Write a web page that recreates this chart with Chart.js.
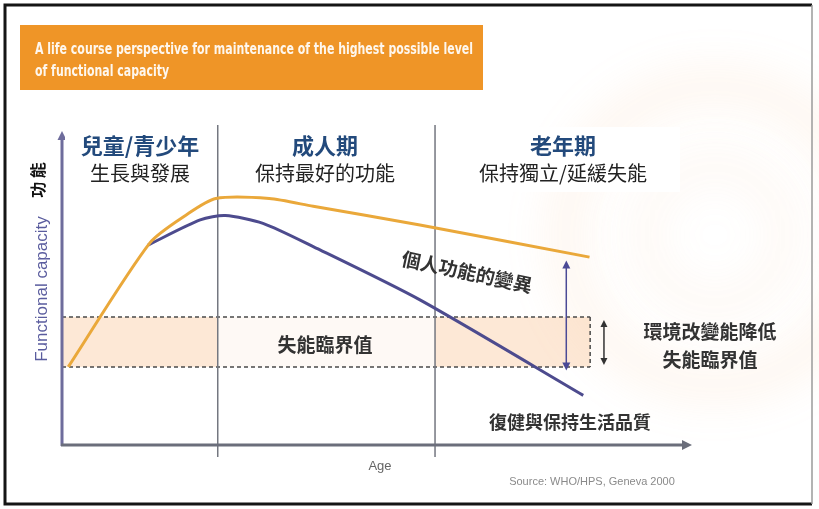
<!DOCTYPE html>
<html>
<head>
<meta charset="utf-8">
<script src="https://cdn.jsdelivr.net/npm/chart.js@4/dist/chart.umd.min.js"></script>
<style>
  html, body { margin: 0; padding: 0; background: #fff; overflow: hidden; }
  canvas { display: block; }
</style>
</head>
<body>
<canvas id="lifeCourse" width="819" height="509"></canvas>
<script>
// functional capacity over the life course (age and capacity on a 0-100 scale)
const highAge = [1, 14, 20, 24.5, 33, 40, 57, 84];
const highCap = [25.2, 65.2, 74.5, 79.5, 79.5, 77, 71, 60.6];
const lowAge = [13.7, 22, 26, 32, 40, 57, 83];
const lowCap = [64.5, 72.6, 74, 71.5, 64, 46.8, 16];

// disability threshold band and the stage boundaries
const thresholdCap = [25.2, 41.3];
const thresholdEnd = 84.1;
const stageBounds = [24.8, 59.4];

// range arrows: [age, from capacity, to capacity]
const variationArrow = [80.3, 59.5, 24];
const thresholdArrow = [86.3, 40.3, 25.8];

const stageTitles = ['兒童/青少年', '成人期', '老年期'];
const stageNotes = ['生長與發展', '保持最好的功能', '保持獨立/延緩失能'];
const bannerLines = [
  'A life course perspective for maintenance of the highest possible level',
  'of functional capacity'
];

const CJK = '"Noto Sans CJK TC", "Noto Sans CJK SC", sans-serif';

function toPoints(xs, ys) {
  return xs.map((x, i) => ({ x: x, y: ys[i] }));
}

function arrowHead(ctx, x, y, dir, size) {
  // dir: 'up' | 'down' | 'right'
  ctx.beginPath();
  if (dir === 'up') { ctx.moveTo(x, y); ctx.lineTo(x - size / 2, y + size); ctx.lineTo(x + size / 2, y + size); }
  if (dir === 'down') { ctx.moveTo(x, y); ctx.lineTo(x - size / 2, y - size); ctx.lineTo(x + size / 2, y - size); }
  if (dir === 'right') { ctx.moveTo(x, y); ctx.lineTo(x - size, y - size / 2); ctx.lineTo(x - size, y + size / 2); }
  ctx.closePath();
  ctx.fill();
}

const diagram = {
  id: 'diagram',
  beforeDraw(chart) {
    const ctx = chart.ctx;
    ctx.save();
    ctx.fillStyle = '#fff';
    ctx.fillRect(0, 0, chart.width, chart.height);

    // faint swirl in the background
    ctx.filter = 'blur(20px)';
    ctx.strokeStyle = 'rgba(244, 175, 110, 0.11)';
    ctx.lineWidth = 36;
    ctx.beginPath(); ctx.arc(715, 235, 150, 0, Math.PI * 2); ctx.stroke();
    ctx.strokeStyle = 'rgba(244, 175, 110, 0.07)';
    ctx.beginPath(); ctx.arc(715, 235, 70, 0, Math.PI * 2); ctx.stroke();
    ctx.filter = 'none';

    // title banner, text squeezed to the banner width
    ctx.fillStyle = '#ef9527';
    ctx.fillRect(20, 25, 463, 65);
    ctx.fillStyle = 'rgba(255,255,255,0.92)';
    ctx.font = 'bold 15px "Liberation Sans Narrow", "DejaVu Sans", sans-serif';
    ctx.textBaseline = 'middle';
    ctx.textAlign = 'left';
    const squeeze = 438 / ctx.measureText(bannerLines[0]).width;
    ctx.translate(35, 0);
    ctx.scale(squeeze, 1);
    ctx.fillText(bannerLines[0], 0, 50);
    ctx.fillText(bannerLines[1], 0, 72);
    ctx.restore();
  },
  beforeDatasetsDraw(chart) {
    const ctx = chart.ctx;
    const xs = chart.scales.x, ys = chart.scales.y;
    const area = chart.chartArea;
    const yTop = ys.getPixelForValue(thresholdCap[1]);
    const yBot = ys.getPixelForValue(thresholdCap[0]);
    const xEnd = xs.getPixelForValue(thresholdEnd);
    const b1 = xs.getPixelForValue(stageBounds[0]);
    const b2 = xs.getPixelForValue(stageBounds[1]);
    ctx.save();

    // threshold band
    ctx.fillStyle = 'rgba(250, 205, 165, 0.45)';
    ctx.fillRect(area.left, yTop, b1 - area.left, yBot - yTop);
    ctx.fillRect(b2, yTop, xEnd - b2, yBot - yTop);
    ctx.fillStyle = 'rgba(250, 215, 185, 0.15)';
    ctx.fillRect(b1, yTop, b2 - b1, yBot - yTop);

    ctx.setLineDash([4, 3]);
    ctx.strokeStyle = '#4a4a4a';
    ctx.lineWidth = 1.5;
    ctx.beginPath();
    ctx.moveTo(area.left, yTop); ctx.lineTo(xEnd, yTop);
    ctx.moveTo(area.left, yBot); ctx.lineTo(xEnd, yBot);
    ctx.moveTo(xEnd, yTop); ctx.lineTo(xEnd, yBot);
    ctx.stroke();
    ctx.setLineDash([]);

    // stage dividers
    ctx.strokeStyle = '#747780';
    ctx.lineWidth = 1.5;
    ctx.beginPath();
    [b1, b2].forEach(x => { ctx.moveTo(x, 125); ctx.lineTo(x, area.bottom + 12); });
    ctx.stroke();

    // axes
    ctx.strokeStyle = '#6e6c9c';
    ctx.fillStyle = '#6e6c9c';
    ctx.lineWidth = 3;
    ctx.beginPath();
    ctx.moveTo(area.left, area.bottom + 1); ctx.lineTo(area.left, area.top + 4);
    ctx.stroke();
    arrowHead(ctx, area.left, area.top - 4, 'up', 9);

    ctx.strokeStyle = '#6b6e7b';
    ctx.fillStyle = '#6b6e7b';
    ctx.beginPath();
    ctx.moveTo(area.left - 1, area.bottom); ctx.lineTo(area.right - 6, area.bottom);
    ctx.stroke();
    arrowHead(ctx, area.right + 2, area.bottom, 'right', 10);

    // axis titles
    ctx.fillStyle = '#666';
    ctx.font = '13px "Liberation Sans", sans-serif';
    ctx.textAlign = 'center';
    ctx.textBaseline = 'middle';
    ctx.fillText('Age', 380, 466);
    ctx.fillStyle = '#8a8a8a';
    ctx.font = '11px "Liberation Sans", sans-serif';
    ctx.fillText('Source: WHO/HPS, Geneva 2000', 592, 482);

    ctx.save();
    ctx.translate(42, 289);
    ctx.rotate(-Math.PI / 2);
    ctx.fillStyle = '#5a5c9e';
    ctx.font = '17px "Liberation Sans", sans-serif';
    ctx.fillText('Functional capacity', 0, 0);
    ctx.restore();

    ctx.save();
    ctx.translate(38, 180);
    ctx.rotate(-Math.PI / 2);
    ctx.fillStyle = '#111';
    ctx.font = 'bold 16px ' + CJK;
    ctx.fillText('功 能', 0, 0);
    ctx.restore();

    ctx.restore();
  },
  afterDatasetsDraw(chart) {
    const ctx = chart.ctx;
    const xs = chart.scales.x, ys = chart.scales.y;
    ctx.save();

    // stage label boxes
    const boxes = [[65, 125, 150, 67], [222, 125, 200, 66], [443, 127, 237, 65]];
    const centers = [140, 325, 563];
    ctx.fillStyle = '#fff';
    boxes.forEach(b => ctx.fillRect(b[0], b[1], b[2], b[3]));
    ctx.textAlign = 'center';
    ctx.textBaseline = 'middle';
    stageTitles.forEach((t, i) => {
      ctx.fillStyle = '#234a7c';
      ctx.font = 'bold 22px ' + CJK;
      ctx.fillText(t, centers[i], 146);
      ctx.fillStyle = '#222';
      ctx.font = '20px ' + CJK;
      ctx.fillText(stageNotes[i], centers[i], 173);
    });

    // annotations
    ctx.fillStyle = '#333';
    ctx.font = 'bold 19px ' + CJK;
    ctx.fillText('失能臨界值', 325, 345);
    ctx.fillText('環境改變能降低', 710, 332);
    ctx.fillText('失能臨界值', 710, 360);
    ctx.font = 'bold 18px ' + CJK;
    ctx.fillText('復健與保持生活品質', 570, 422);

    ctx.save();
    ctx.translate(467, 272);
    ctx.rotate(0.21);
    ctx.font = 'bold 19px ' + CJK;
    ctx.fillText('個人功能的變異', 0, 0);
    ctx.restore();

    // variation arrow
    const vx = xs.getPixelForValue(variationArrow[0]);
    const vTop = ys.getPixelForValue(variationArrow[1]);
    const vBot = ys.getPixelForValue(variationArrow[2]);
    ctx.strokeStyle = '#4b4a96';
    ctx.fillStyle = '#4b4a96';
    ctx.lineWidth = 1.5;
    ctx.beginPath(); ctx.moveTo(vx, vTop + 6); ctx.lineTo(vx, vBot - 6); ctx.stroke();
    arrowHead(ctx, vx, vTop, 'up', 8);
    arrowHead(ctx, vx, vBot, 'down', 8);

    // threshold arrow
    const tx = xs.getPixelForValue(thresholdArrow[0]);
    const tTop = ys.getPixelForValue(thresholdArrow[1]);
    const tBot = ys.getPixelForValue(thresholdArrow[2]);
    ctx.strokeStyle = '#333';
    ctx.fillStyle = '#333';
    ctx.beginPath(); ctx.moveTo(tx, tTop + 6); ctx.lineTo(tx, tBot - 6); ctx.stroke();
    arrowHead(ctx, tx, tTop, 'up', 7);
    arrowHead(ctx, tx, tBot, 'down', 7);

    // outer frame
    ctx.strokeStyle = '#151515';
    ctx.lineWidth = 3;
    ctx.beginPath();
    ctx.moveTo(812, 5); ctx.lineTo(5, 5); ctx.lineTo(5, 504); ctx.lineTo(812, 504);
    ctx.stroke();
    ctx.strokeStyle = '#9a9a9a';
    ctx.lineWidth = 1.5;
    ctx.beginPath(); ctx.moveTo(812, 5); ctx.lineTo(812, 504); ctx.stroke();

    ctx.restore();
  }
};

new Chart(document.getElementById('lifeCourse').getContext('2d'), {
  type: 'line',
  data: {
    datasets: [
      {
        data: toPoints(highAge, highCap),
        borderColor: '#eaa83a',
        borderWidth: 3,
        pointRadius: 0,
        tension: 0.25
      },
      {
        data: toPoints(lowAge, lowCap),
        borderColor: '#4d4b8e',
        borderWidth: 3,
        pointRadius: 0,
        tension: 0.25
      }
    ]
  },
  options: {
    responsive: false,
    animation: false,
    devicePixelRatio: 1,
    layout: { padding: { left: 62, right: 129, top: 135, bottom: 64 } },
    scales: {
      x: { type: 'linear', min: 0, max: 100, display: false },
      y: { min: 0, max: 100, display: false }
    },
    plugins: { legend: { display: false }, tooltip: { enabled: false } }
  },
  plugins: [diagram]
});
</script>
</body>
</html>
